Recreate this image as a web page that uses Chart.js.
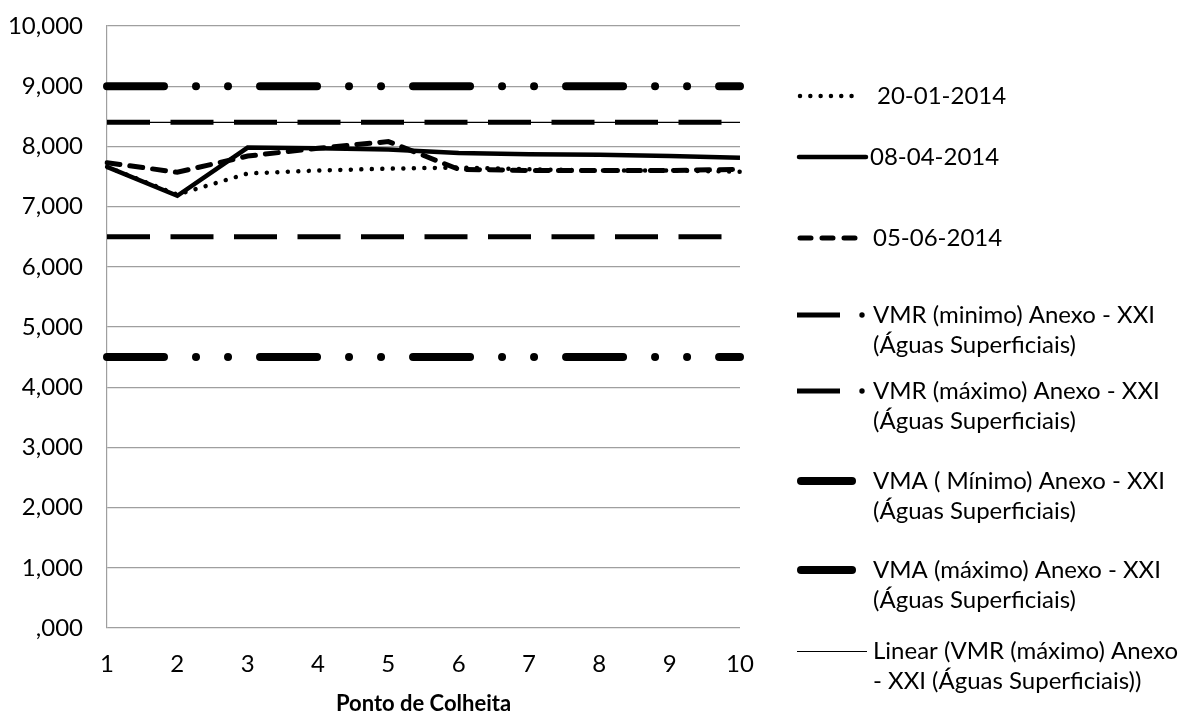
<!DOCTYPE html>
<html>
<head>
<meta charset="utf-8">
<title>Ponto de Colheita</title>
<script src="https://cdn.jsdelivr.net/npm/chart.js@4.4.1/dist/chart.umd.min.js"></script>
<style>
  html, body { margin: 0; padding: 0; background: #fff; }
  #wrap { width: 1192px; height: 713px; }
</style>
</head>
<body>
<div id="wrap"><canvas id="chart" width="1192" height="713"></canvas></div>
<script>
// Data
const categories = ['1', '2', '3', '4', '5', '6', '7', '8', '9', '10'];
const serie20jan = [7.66, 7.20, 7.55, 7.60, 7.63, 7.65, 7.62, 7.60, 7.60, 7.58];
const serie08abr = [7.66, 7.18, 7.98, 7.97, 7.95, 7.89, 7.87, 7.86, 7.84, 7.81];
const serie05jun = [7.73, 7.57, 7.84, 7.97, 8.08, 7.62, 7.60, 7.60, 7.60, 7.62];
const vmrMinimo = [6.5, 6.5, 6.5, 6.5, 6.5, 6.5, 6.5, 6.5, 6.5, 6.5];
const vmrMaximo = [8.4, 8.4, 8.4, 8.4, 8.4, 8.4, 8.4, 8.4, 8.4, 8.4];
const vmaMinimo = [4.5, 4.5, 4.5, 4.5, 4.5, 4.5, 4.5, 4.5, 4.5, 4.5];
const vmaMaximo = [9.0, 9.0, 9.0, 9.0, 9.0, 9.0, 9.0, 9.0, 9.0, 9.0];
const linearVmrMaximo = [8.4, 8.4, 8.4, 8.4, 8.4, 8.4, 8.4, 8.4, 8.4, 8.4];
const yTickLabels = [',000', '1,000', '2,000', '3,000', '4,000', '5,000',
                     '6,000', '7,000', '8,000', '9,000', '10,000'];

const FONT = 'Lato, "Open Sans", sans-serif';
const FONT_SIZE = 24;
const GRID = '#9f9f9f';

// legend drawn on the right, Excel style (sample line + wrapped text)
const legendEntries = [
    { kind: 'dotted', y: 96,  x: 877, lines: ['20-01-2014'] },
    { kind: 'solid',  y: 157, x: 870, lines: ['08-04-2014'] },
    { kind: 'dashed', y: 238, x: 873, lines: ['05-06-2014'] },
    { kind: 'vmr',    y: 315, x: 873, lines: ['VMR (minimo) Anexo - XXI', '(Águas Superficiais)'] },
    { kind: 'vmr',    y: 391, x: 873, lines: ['VMR (máximo) Anexo - XXI', '(Águas Superficiais)'] },
    { kind: 'vma',    y: 481, x: 873, lines: ['VMA ( Mínimo) Anexo - XXI', '(Águas Superficiais)'] },
    { kind: 'vma',    y: 570, x: 873, lines: ['VMA (máximo) Anexo - XXI', '(Águas Superficiais)'] },
    { kind: 'thin',   y: 651, x: 873, lines: ['Linear (VMR (máximo) Anexo', '- XXI (Águas Superficiais))'] }
];

function drawSample(ctx, kind, y) {
    ctx.save();
    ctx.strokeStyle = '#000';
    ctx.fillStyle = '#000';
    ctx.beginPath();
    if (kind === 'dotted') {
        ctx.lineWidth = 4.5; ctx.lineCap = 'round'; ctx.setLineDash([0.01, 10.3]);
        ctx.moveTo(800, y); ctx.lineTo(858, y);
    } else if (kind === 'solid') {
        ctx.lineWidth = 4.5; ctx.lineCap = 'round';
        ctx.moveTo(799, y); ctx.lineTo(866, y);
    } else if (kind === 'dashed') {
        ctx.lineWidth = 5; ctx.lineCap = 'round'; ctx.setLineDash([11, 11]);
        ctx.moveTo(800, y); ctx.lineTo(855, y);
    } else if (kind === 'vmr') {
        ctx.lineWidth = 5; ctx.lineCap = 'butt';
        ctx.moveTo(797, y); ctx.lineTo(840, y);
        ctx.stroke();
        ctx.beginPath();
        ctx.arc(862, y, 2.7, 0, Math.PI * 2);
        ctx.fill();
        ctx.restore();
        return;
    } else if (kind === 'vma') {
        ctx.lineWidth = 8; ctx.lineCap = 'round';
        ctx.moveTo(801, y); ctx.lineTo(852, y);
    } else {
        ctx.lineWidth = 1;
        ctx.moveTo(797, y + 0.5); ctx.lineTo(867, y + 0.5);
    }
    ctx.stroke();
    ctx.restore();
}

const excelLegend = {
    id: 'excelLegend',
    afterDraw(chart) {
        const ctx = chart.ctx;
        ctx.save();
        ctx.font = FONT_SIZE + 'px ' + FONT;
        ctx.fillStyle = '#000';
        ctx.textAlign = 'left';
        ctx.textBaseline = 'middle';
        legendEntries.forEach(entry => {
            drawSample(ctx, entry.kind, entry.y);
            entry.lines.forEach((line, i) => {
                ctx.fillText(line, entry.x, entry.y + i * 30.5);
            });
        });
        ctx.restore();
    }
};

const base = { pointRadius: 0, pointHoverRadius: 0, tension: 0, fill: false, borderColor: '#000' };

const ctx = document.getElementById('chart').getContext('2d');
const chart = new Chart(ctx, {
    type: 'line',
    data: {
        labels: categories,
        datasets: [
            Object.assign({}, base, { label: '20-01-2014', data: serie20jan, borderWidth: 4.5,
                borderDash: [0.01, 10.5], borderCapStyle: 'round' }),
            Object.assign({}, base, { label: '08-04-2014', data: serie08abr, borderWidth: 4.5,
                borderJoinStyle: 'miter' }),
            Object.assign({}, base, { label: '05-06-2014', data: serie05jun, borderWidth: 5,
                borderDash: [13, 10], borderCapStyle: 'round' }),
            Object.assign({}, base, { label: 'VMR (minimo) Anexo - XXI (Águas Superficiais)', data: vmrMinimo,
                borderWidth: 5, borderDash: [43, 20.5], borderCapStyle: 'butt' }),
            Object.assign({}, base, { label: 'VMR (máximo) Anexo - XXI (Águas Superficiais)', data: vmrMaximo,
                borderWidth: 5, borderDash: [43, 20.5], borderCapStyle: 'butt' }),
            Object.assign({}, base, { label: 'VMA ( Mínimo) Anexo - XXI (Águas Superficiais)', data: vmaMinimo,
                borderWidth: 8, borderDash: [57, 32, 0.01, 32, 0.01, 32], borderCapStyle: 'round' }),
            Object.assign({}, base, { label: 'VMA (máximo) Anexo - XXI (Águas Superficiais)', data: vmaMaximo,
                borderWidth: 8, borderDash: [57, 32, 0.01, 32, 0.01, 32], borderCapStyle: 'round' }),
            Object.assign({}, base, { label: 'Linear (VMR (máximo) Anexo - XXI (Águas Superficiais))',
                data: linearVmrMaximo, borderWidth: 1.2, order: 1 })
        ]
    },
    options: {
        responsive: false,
        animation: false,
        devicePixelRatio: 1,
        layout: { padding: { left: 0, top: 26, right: 452, bottom: -4 } },
        plugins: {
            legend: { display: false },
            tooltip: { enabled: false }
        },
        scales: {
            x: {
                offset: false,
                afterFit(scale) { scale.height = 89; },
                grid: { display: false, drawTicks: false },
                border: { display: false },
                ticks: {
                    color: '#000', padding: 22, maxRotation: 0, autoSkip: false,
                    font: { family: FONT, size: FONT_SIZE }
                },
                title: {
                    display: true, text: 'Ponto de Colheita', color: '#000',
                    font: { family: FONT, size: 22, weight: 'bold' },
                    padding: { top: 4, bottom: 0 }
                }
            },
            y: {
                min: 0, max: 10,
                afterFit(scale) {
                    scale.width = 107;
                    scale.paddingTop = 0;
                    scale.paddingBottom = 0;
                },
                grid: { color: GRID, lineWidth: 1.2, drawTicks: false },
                border: { display: true, color: GRID, width: 1.2 },
                ticks: {
                    stepSize: 1, padding: 24, color: '#000',
                    font: { family: FONT, size: FONT_SIZE },
                    callback: (value) => yTickLabels[Math.round(value)]
                }
            }
        }
    },
    plugins: [excelLegend]
});
</script>
</body>
</html>
